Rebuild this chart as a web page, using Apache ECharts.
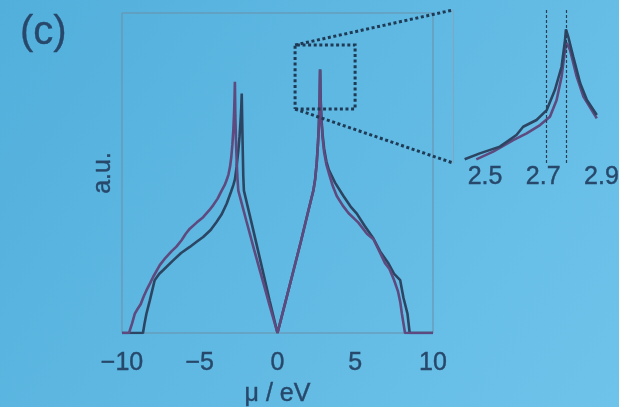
<!DOCTYPE html>
<html><head><meta charset="utf-8">
<script src="https://cdn.jsdelivr.net/npm/echarts@6/dist/echarts.min.js"></script>
<style>html,body{margin:0;padding:0;background:#5cb4de;} #c{width:619px;height:407px;}</style>
</head><body><div id="c"></div><script>
// ---- data ----
const panelLabel = '(c)';
const xTitle = 'μ / eV';
const yTitle = 'a.u.';
const xTicks = [-10, -5, 0, 5, 10];
const insetTicks = [2.5, 2.7, 2.9];
const insetMarks = [2.71, 2.78];
const insetRange = [2.39, 2.95];

// curve A (peak at -2.74 on the left)
const curveA = [
  [-10,0],[-9.55,0],[-9.35,0.03],[-9.18,0.06],[-9.0,0.075],[-8.8,0.09],[-8.6,0.115],[-8.43,0.133],[-8.2,0.155],
  [-8.0,0.175],[-7.57,0.212],[-7.2,0.235],[-6.82,0.255],[-6.5,0.27],[-6.17,0.29],[-5.9,0.31],[-5.64,0.326],
  [-5.2,0.345],[-4.78,0.362],[-4.4,0.383],[-4.14,0.399],[-3.85,0.42],[-3.6,0.444],[-3.4,0.462],[-3.27,0.478],
  [-3.15,0.496],[-3.05,0.52],[-2.97,0.55],[-2.9,0.59],[-2.84,0.635],[-2.79,0.69],[-2.76,0.74],[-2.74,0.785],
  [-2.71,0.68],[-2.67,0.6],[-2.62,0.53],[-2.57,0.48],[-2.52,0.445],[-2.0,0.35],[-1.5,0.26],[-1.0,0.172],[-0.5,0.085],[0,0],
  [0.5,0.095],[1.0,0.19],[1.5,0.285],[2.0,0.385],[2.31,0.446],[2.42,0.48],[2.52,0.53],[2.6,0.59],[2.66,0.65],[2.71,0.73],[2.74,0.823],
  [2.77,0.73],[2.82,0.665],[2.9,0.61],[3.0,0.565],[3.15,0.525],[3.3,0.5],[3.55,0.46],[3.81,0.428],[4.2,0.398],[4.56,0.375],
  [5.2,0.345],[5.75,0.31],[6.17,0.293],[6.5,0.26],[6.93,0.217],[7.2,0.2],[7.5,0.165],[7.75,0.13],[7.9,0.095],[8.0,0.06],
  [8.1,0.03],[8.2,0],[10,0]
];
// curve B (peak at -2.3 on the left)
const curveB = [
  [-10,0],[-8.65,0],[-8.55,0.03],[-8.43,0.06],[-8.21,0.102],[-7.9,0.165],[-7.6,0.185],[-7.36,0.196],[-6.71,0.227],
  [-6.2,0.25],[-5.64,0.269],[-5.2,0.285],[-4.78,0.3],[-4.3,0.322],[-3.92,0.347],[-3.6,0.37],[-3.27,0.404],
  [-3.0,0.44],[-2.84,0.462],[-2.74,0.48],[-2.63,0.519],[-2.52,0.57],[-2.44,0.615],[-2.38,0.66],[-2.33,0.705],[-2.3,0.748],
  [-2.27,0.66],[-2.23,0.56],[-2.2,0.49],[-2.16,0.445],[-1.6,0.33],[-1.0,0.205],[-0.5,0.1],[0,0],
  [0.5,0.095],[1.0,0.19],[1.5,0.285],[2.0,0.385],[2.31,0.446],[2.42,0.48],[2.52,0.53],[2.6,0.59],[2.66,0.65],[2.71,0.73],[2.74,0.823],
  [2.77,0.74],[2.82,0.675],[2.9,0.62],[3.0,0.575],[3.15,0.535],[3.3,0.51],[3.7,0.47],[4.24,0.428],[4.7,0.395],[5.1,0.373],
  [5.6,0.335],[6.17,0.295],[6.6,0.255],[7.14,0.217],[7.5,0.185],[7.89,0.165],[8.1,0.11],[8.36,0.06],[8.5,0],[10,0]
];
// inset curves
const inset1 = [
  [2.430,0.024],[2.482,0.063],[2.551,0.107],[2.608,0.183],[2.631,0.237],[2.677,0.281],[2.712,0.346],
  [2.740,0.477],[2.763,0.629],[2.775,0.804],[2.778,0.874],
  [2.786,0.825],[2.803,0.695],[2.827,0.521],[2.85,0.412],[2.884,0.314]
];
const inset2 = [
  [2.470,0.024],[2.528,0.074],[2.597,0.150],[2.643,0.194],[2.689,0.248],[2.723,0.303],[2.746,0.412],
  [2.763,0.564],[2.775,0.739],[2.781,0.784],
  [2.792,0.739],[2.815,0.564],[2.838,0.434],[2.884,0.292]
];
// zoom box (main-axis data units)
const boxX = [1.13, 4.99];
const boxY = [0.70, 0.90];

// ---- chart ----
const FONT = "'Liberation Sans', Arial, sans-serif";
const TXT = '#27486a';
const colA = '#5e4a7e', colB = '#2c4563';
const dotStyle = {stroke:'#1f3a55', lineWidth:3, lineDash:[3,2.6], fill:null};
const txtStyle = (size)=>({fontSize:size,color:TXT,fontFamily:FONT,textBorderColor:TXT,textBorderWidth:0.4});
const lineCommon = {type:'line',symbol:'none',smooth:false,z:3};

const box = [[boxX[0],boxY[0]],[boxX[1],boxY[0]],[boxX[1],boxY[1]],[boxX[0],boxY[1]],[boxX[0],boxY[0]]];

const chart = echarts.init(document.getElementById('c'));
chart.setOption({
  animation:false,
  backgroundColor:{type:'linear',x:0,y:0,x2:1,y2:1,colorStops:[{offset:0,color:'#52afdb'},{offset:1,color:'#6ec3ea'}]},
  textStyle:{fontFamily:FONT},
  title:{text:panelLabel,left:15,top:8,textStyle:Object.assign(txtStyle(40),{fontWeight:'normal',textBorderWidth:0.3})},
  grid:[
    {left:122,right:186,top:13,bottom:74,show:true,borderColor:'#6b8fa8',borderWidth:1,outerBoundsMode:'none'},
    {left:453,right:3,top:10,height:153,show:false,outerBoundsMode:'none'}
  ],
  xAxis:[
    {type:'value',gridIndex:0,min:-10,max:10,interval:5,
     axisLine:{show:false},axisTick:{show:false},splitLine:{show:false},
     axisLabel:Object.assign({margin:18,formatter:v=>(v<0?'\u2212'+Math.abs(v):String(v))},txtStyle(25)),
     name:xTitle,nameLocation:'middle',nameGap:41,nameTextStyle:txtStyle(25)},
    {type:'value',gridIndex:1,min:insetRange[0],max:insetRange[1],
     axisLine:{show:false},axisTick:{show:false},splitLine:{show:false},
     axisLabel:Object.assign({customValues:insetTicks,margin:2,formatter:v=>v.toFixed(1)},txtStyle(25))}
  ],
  yAxis:[
    {type:'value',gridIndex:0,min:0,max:1,
     axisLine:{show:false},axisTick:{show:false},splitLine:{show:false},axisLabel:{show:false},
     name:yTitle,nameLocation:'middle',nameGap:6,nameTextStyle:txtStyle(25)},
    {type:'value',gridIndex:1,min:0,max:1,
     axisLine:{show:true,lineStyle:{color:'#7fa7c0',width:1}},axisTick:{show:false},
     splitLine:{show:false},axisLabel:{show:false}}
  ],
  series:[
    Object.assign({xAxisIndex:0,yAxisIndex:0,data:curveB,lineStyle:{color:colB,width:2.6}},lineCommon),
    Object.assign({xAxisIndex:0,yAxisIndex:0,data:curveA,lineStyle:{color:colA,width:2.6}},lineCommon),
    Object.assign({xAxisIndex:1,yAxisIndex:1,data:inset2,lineStyle:{color:colA,width:2.6},
     markLine:{silent:true,symbol:'none',label:{show:false},
       lineStyle:{color:'#2a3f55',width:1.2,type:[3,2]},
       data:insetMarks.map(v=>({xAxis:v}))}},lineCommon),
    Object.assign({xAxisIndex:1,yAxisIndex:1,data:inset1,lineStyle:{color:colB,width:2.6}},lineCommon)
  ]
});

// zoom box and connectors, placed through the axes' own scales
const p = pt => chart.convertToPixel({gridIndex:0}, pt);
const q = pt => chart.convertToPixel({gridIndex:1}, pt);
const boxPx = box.map(p);
const conTop = [p([boxX[0],boxY[1]]), q([insetRange[0],1])];
const conBot = [p([boxX[0],boxY[0]]), q([insetRange[0],0])];
chart.setOption({graphic:[
  {type:'polyline',z:10,shape:{points:boxPx},style:dotStyle},
  {type:'polyline',z:10,shape:{points:conTop},style:dotStyle},
  {type:'polyline',z:10,shape:{points:conBot},style:dotStyle}
]});
</script></body></html>
